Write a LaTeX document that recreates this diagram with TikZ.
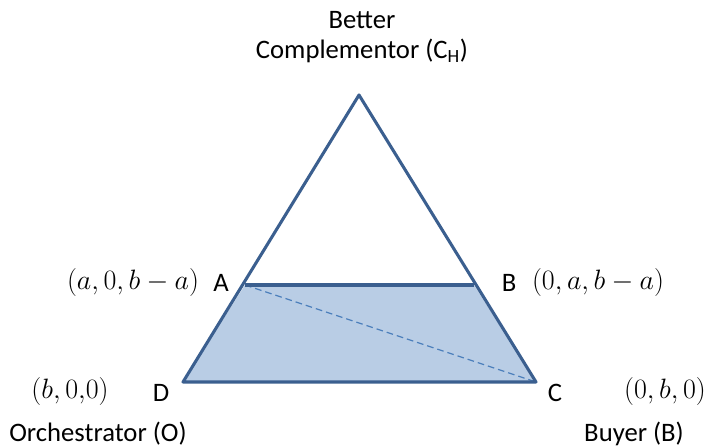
\RequirePackage{fix-cm}
\documentclass[tikz,border=0pt]{standalone}
\usepackage{fontspec}
\setmainfont{Carlito}
\begin{document}
\begin{tikzpicture}[x=0.75pt,y=-0.75pt,
  edge/.style={draw=edgeblue,line width=2.3pt,line join=round},
  lbl/.style={font=\fontsize{20}{23}\selectfont,inner sep=0pt,align=center},
  mlbl/.style={font=\fontsize{21}{25}\selectfont,inner sep=0pt}]
\definecolor{edgeblue}{HTML}{3B5F8F}
\definecolor{fillblue}{HTML}{B9CDE5}
\definecolor{dashblue}{HTML}{4A7EBB}
\useasboundingbox (0,0) rectangle (709,448);
\coordinate (T) at (359,95);
\coordinate (A) at (245,285);
\coordinate (B) at (474,285);
\coordinate (D) at (183,382);
\coordinate (C) at (536,382);
\fill[fillblue] (A) -- (B) -- (C) -- (D) -- cycle;
\draw[dashblue,line width=0.9pt,dash pattern=on 5pt off 3pt] (A) -- (C);
\draw[edge] (T) -- (D) -- (C) -- cycle;
\draw[edge] (A) -- (B);
\node[lbl] (top) at (362,37) {Better\\Complementor (C\textsubscript{H})};
\node[mlbl] (ma) at (133,283) {$(a,0,b-a)$};
\node[lbl] (la) at (221,283) {A};
\node[lbl] (lb) at (509,283) {B};
\node[mlbl] (mb) at (598,283) {$(0,a,b-a)$};
\node[mlbl] (md) at (70,391) {$(b,0{,}0)$};
\node[lbl] (ld) at (161,393) {D};
\node[lbl] (lc) at (555,393) {C};
\node[mlbl] (mc) at (665,391) {$(0,b,0)$};
\node[lbl] (orch) at (98,434) {Orchestrator (O)};
\node[lbl] (buyer) at (634,434) {Buyer (B)};
\end{tikzpicture}
\end{document}
